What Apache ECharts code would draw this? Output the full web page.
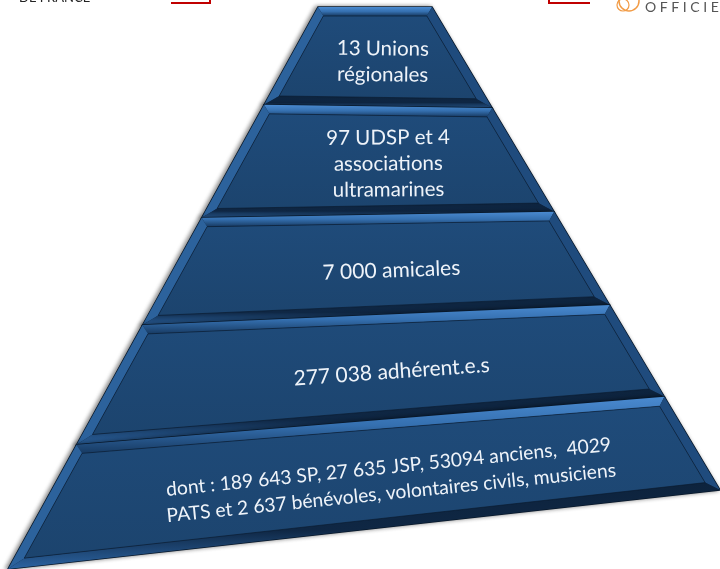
<!DOCTYPE html>
<html>
<head>
<meta charset="utf-8">
<script src="https://cdn.jsdelivr.net/npm/echarts@6.0.0/dist/echarts.min.js"></script>
<style>
  html, body { margin: 0; padding: 0; background: #fff; }
  #main { width: 720px; height: 569px; }
</style>
</head>
<body>
<div id="main"></div>
<script>
// données : un palier de la pyramide par entrée (du sommet vers la base)
var tier_levels = [0, 1, 2, 3, 4];
var tier_labels = [
    '13 Unions\nrégionales',
    '97 UDSP et 4\nassociations\nultramarines',
    '7 000 amicales',
    '277 038 adhérent.e.s',
    'dont : 189 643 SP, 27 635 JSP, 53094 anciens,  4029\nPATS et 2 637 bénévoles, volontaires civils, musiciens'
];

// cadre de la pyramide (vue en perspective), en unités des axes cachés
var frame = { tl: [318, 7], tr: [432, 7], br: [720, 490], bl: [8, 569] };
// position des séparations le long des arêtes gauche / droite (0 = sommet, 1 = base)
var edge_left_t = [0, 0.174, 0.375, 0.566, 0.779, 1];
var edge_right_t = [0, 0.209, 0.424, 0.617, 0.807, 1];
var label_size = [20.5, 20.5, 21, 21, 19.3];
var label_dy = [2, 0, 3, 2, 4];

var chart_dom = document.getElementById('main');
var chart = echarts.init(chart_dom);

function lerp(a, b, t) {
    return [a[0] + (b[0] - a[0]) * t, a[1] + (b[1] - a[1]) * t];
}

// décale chaque arête vers l'intérieur de d pixels
function inset(pts, d) {
    var n = pts.length;
    var lines = [];
    for (var i = 0; i < n; i++) {
        var a = pts[i], b = pts[(i + 1) % n];
        var dx = b[0] - a[0], dy = b[1] - a[1];
        var len = Math.sqrt(dx * dx + dy * dy);
        lines.push([a[0] - dy / len * d, a[1] + dx / len * d, dx, dy]);
    }
    var res = [];
    for (var i = 0; i < n; i++) {
        var p = lines[(i - 1 + n) % n], q = lines[i];
        var cross = p[2] * q[3] - p[3] * q[2];
        var t = ((q[0] - p[0]) * q[3] - (q[1] - p[1]) * q[2]) / cross;
        res.push([p[0] + p[2] * t, p[1] + p[3] * t]);
    }
    return res;
}

function render_tier(params, api) {
    var i = api.value(0);
    var lt0 = lerp(frame.tl, frame.bl, edge_left_t[i]);
    var lt1 = lerp(frame.tl, frame.bl, edge_left_t[i + 1]);
    var rt0 = lerp(frame.tr, frame.br, edge_right_t[i]);
    var rt1 = lerp(frame.tr, frame.br, edge_right_t[i + 1]);
    var outer = [api.coord(lt0), api.coord(rt0), api.coord(rt1), api.coord(lt1)];
    var inner = inset(outer, 9);

    // centre du texte
    var lm = lerp(outer[0], outer[3], 0.53);
    var rm = lerp(outer[1], outer[2], 0.53);
    var c = lerp(lm, rm, 0.535);
    // inclinaison (la perspective s'accentue vers la base)
    var la = lerp(outer[0], outer[3], 0.65);
    var ra = lerp(outer[1], outer[2], 0.65);
    var angle = -Math.atan2(ra[1] - la[1], ra[0] - la[0]);

    return {
        type: 'group',
        children: [
            {
                type: 'polygon',
                shape: { points: outer },
                style: { fill: '#10294a', stroke: '#08182a', lineWidth: 1.5,
                         shadowBlur: 4, shadowColor: 'rgba(0,0,0,0.45)', shadowOffsetX: -2 }
            },
            {   // biseau haut
                type: 'polygon',
                shape: { points: [outer[0], outer[1], inner[1], inner[0]] },
                style: { fill: { type: 'linear', x: 0, y: 0, x2: 0, y2: 1,
                         colorStops: [{ offset: 0, color: '#4a8ad0' }, { offset: 0.5, color: '#3570b0' }, { offset: 1, color: '#173a62' }] } }
            },
            {   // biseau gauche
                type: 'polygon',
                shape: { points: [outer[3], outer[0], inner[0], inner[3]] },
                style: { fill: '#2c629c' }
            },
            {   // biseau droit
                type: 'polygon',
                shape: { points: [outer[1], outer[2], inner[2], inner[1]] },
                style: { fill: '#1f4b7d' }
            },
            {   // biseau bas
                type: 'polygon',
                shape: { points: [outer[2], outer[3], inner[3], inner[2]] },
                style: { fill: { type: 'linear', x: 0, y: 0, x2: 0, y2: 1,
                         colorStops: [{ offset: 0, color: '#0d233d' }, { offset: 0.55, color: '#0f2744' }, { offset: 1, color: '#2c64a2' }] } }
            },
            {   // face
                type: 'polygon',
                shape: { points: inner },
                style: { fill: { type: 'linear', x: 0, y: 0, x2: 0, y2: 1,
                         colorStops: [{ offset: 0, color: '#1f4b7a' }, { offset: 1, color: '#1c446e' }] },
                         stroke: 'rgba(8,24,42,0.6)', lineWidth: 1 }
            },
            {
                type: 'text',
                x: c[0],
                y: c[1] + label_dy[i],
                rotation: angle,
                style: {
                    text: tier_labels[i],
                    fill: '#eef3f9',
                    font: label_size[i] + 'px Lato',
                    lineHeight: 26,
                    align: 'center',
                    verticalAlign: 'middle'
                }
            }
        ]
    };
}

var option = {
    animation: false,
    backgroundColor: '#ffffff',
    grid: { left: 0, right: 0, top: 0, bottom: 0 },
    xAxis: { type: 'value', min: 0, max: 720, show: false },
    yAxis: { type: 'value', min: 0, max: 569, inverse: true, show: false },
    graphic: [
        {   // en-têtes coupés en haut de l'image
            type: 'text', x: 19, y: -2,
            style: { text: 'DE FRANCE', font: '13px Lato', fill: '#222', verticalAlign: 'middle' }
        },
        {
            type: 'polyline',
            shape: { points: [[171, 3], [210, 3], [210, -2]] },
            style: { stroke: '#c00000', lineWidth: 2, fill: null }
        },
        {
            type: 'polyline',
            shape: { points: [[549, -2], [549, 3], [590, 3]] },
            style: { stroke: '#c00000', lineWidth: 2, fill: null }
        },
        {
            type: 'circle', shape: { cx: 629, cy: 1, r: 10 },
            style: { stroke: '#f29b45', lineWidth: 1.5, fill: null }
        },
        {
            type: 'circle', shape: { cx: 623, cy: 5, r: 6 },
            style: { stroke: '#f29b45', lineWidth: 1.2, fill: null }
        },
        {
            type: 'text', x: 645, y: 7,
            style: { text: 'O F F I C I E L', font: '14px Lato', fill: '#555', verticalAlign: 'middle' }
        }
    ],
    series: [
        {
            type: 'custom',
            renderItem: render_tier,
            data: tier_levels.map(function (lv) { return [lv]; }),
            silent: true
        }
    ]
};
chart.setOption(option);
</script>
</body>
</html>
